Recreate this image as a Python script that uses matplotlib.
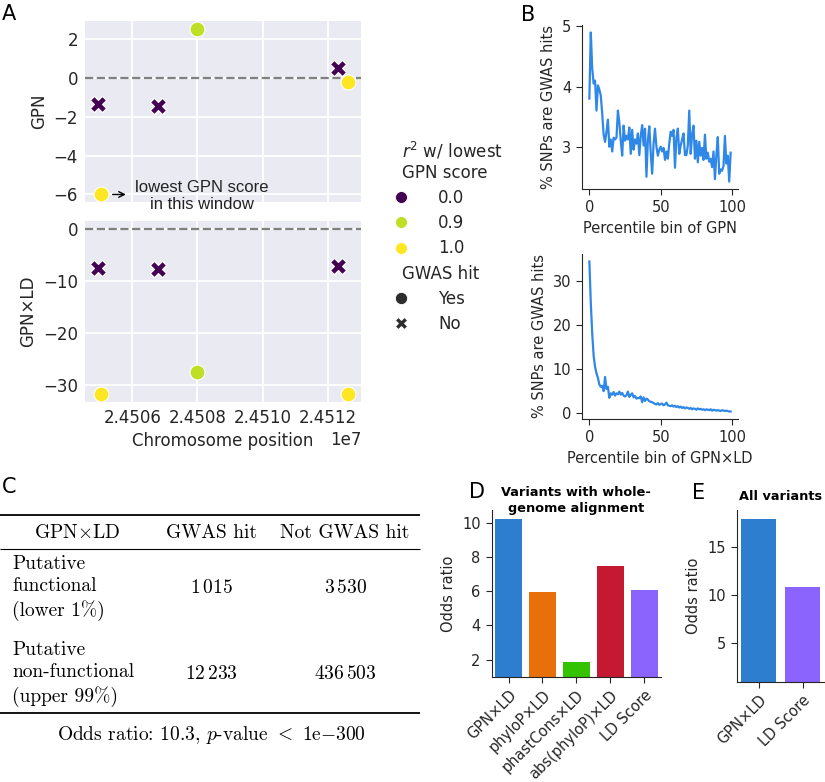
import matplotlib.pyplot as plt
from matplotlib.lines import Line2D
from matplotlib.transforms import offset_copy

# ---- panel A data ----
positions = [24504932, 24505034, 24506800, 24507970, 24512326, 24512634]
gpn = [-1.33, -5.97, -1.47, 2.5, 0.5, -0.2]
gpn_ld = [-7.5, -31.6, -7.6, -27.4, -7.0, -31.6]
r2 = [0.0, 1.0, 0.0, 0.9, 0.0, 1.0]
gwas_hit = [False, True, False, True, False, True]
r2_levels = [0.0, 0.9, 1.0]
pos_ticks = [24506000, 24508000, 24510000, 24512000]

# ---- panel B data ----
percentile_bins = list(range(100))
pct_gwas_gpn = [
    3.8, 4.9, 4.3, 4.05, 4.1, 3.6, 4.02, 3.95, 3.85, 3.55,
    3.2, 3.08, 3.25, 3.45, 3.0, 3.12, 2.92, 3.15, 3.12, 3.15,
    3.6, 3.4, 3.1, 2.85, 3.35, 3.1, 3.18, 3.12, 3.32, 2.88,
    3.28, 2.95, 3.12, 3.05, 3.22, 2.86, 3.18, 3.36, 3.02, 3.3,
    2.5, 3.1, 3.34, 2.9, 2.55, 3.05, 3.3, 3.0, 2.85, 2.95,
    3.0, 2.92, 2.98, 2.78, 2.92, 2.8, 3.05, 3.25, 3.18, 3.28,
    2.65, 3.15, 3.3, 2.88, 3.02, 3.12, 3.22, 2.86, 2.86, 3.02,
    3.6, 2.88, 3.2, 3.35, 2.8, 3.1, 2.74, 3.08, 2.85, 2.98,
    2.78, 3.2, 2.8, 2.9, 2.75, 2.8, 2.66, 2.92, 2.46, 2.86,
    3.16, 2.55, 2.62, 2.6, 2.68, 3.18, 2.72, 2.85, 2.42, 2.9,
]
pct_gwas_gpn_ld = [
    34.3, 25.0, 18.0, 13.0, 10.5, 9.0, 8.0, 6.5, 6.0, 6.2,
    5.0, 8.2, 5.5, 6.0, 3.5, 4.5, 4.2, 4.8, 4.0, 4.5,
    4.3, 4.9, 4.2, 4.6, 4.0, 3.8, 4.1, 4.9, 3.7, 4.2,
    4.5, 3.6, 3.9, 3.3, 3.5, 3.4, 3.8, 2.5, 3.6, 2.8,
    3.3, 3.1, 2.7, 2.6, 2.5, 2.3, 2.1, 2.0, 2.3, 1.9,
    2.1, 2.2, 1.8, 2.0, 2.4, 1.8, 1.7, 1.6, 1.8, 1.5,
    1.7, 1.4, 1.6, 1.3, 1.5, 1.2, 1.4, 1.1, 1.3, 1.2,
    1.0, 1.2, 0.9, 1.1, 1.0, 0.8, 1.1, 0.9, 1.0, 0.8,
    0.9, 0.7, 0.9, 0.8, 0.7, 0.9, 0.6, 0.8, 0.7, 0.6,
    0.7, 0.6, 0.5, 0.7, 0.6, 0.5, 0.6, 0.5, 0.4, 0.4,
]

# ---- panel C data ----
table_header = ['GPN$\\times$LD', 'GWAS hit', 'Not GWAS hit']
row_labels = ['Putative\nfunctional\n(lower 1%)', 'Putative\nnon-functional\n(upper 99%)']
hit_counts = [1015, 12233]
not_hit_counts = [3530, 436503]
odds_ratio = 10.3

# ---- panels D, E data ----
models_wga = ['GPN×LD', 'phyloP×LD', 'phastCons×LD', 'abs(phyloP)×LD', 'LD Score']
odds_wga = [10.25, 5.94, 1.84, 7.47, 6.1]
colors_wga = ['#2E7ECF', '#E8700A', '#33C300', '#C51832', '#8B63FD']
models_all = ['GPN×LD', 'LD Score']
odds_all = [17.9, 10.86]
colors_all = ['#2E7ECF', '#8B63FD']

W, H = 825, 782
fig = plt.figure(figsize=(W / 100, H / 100), dpi=100)


def box(l, t, r, b):
    return [l / W, 1 - b / H, (r - l) / W, (b - t) / H]


dark = '#262626'
cmap = plt.get_cmap('viridis')

# ---------------- A ----------------
ax_top = fig.add_axes(box(85, 21, 361, 202))
ax_bot = fig.add_axes(box(85, 221, 361, 402), sharex=ax_top)
for ax, vals, lab in [(ax_top, gpn, 'GPN'), (ax_bot, gpn_ld, 'GPN×LD')]:
    ax.set_facecolor('#EAEAF2')
    for s in ax.spines.values():
        s.set_visible(False)
    ax.grid(True, color='white', lw=1.3)
    ax.set_axisbelow(True)
    ax.axhline(0, color='grey', ls='--', lw=1.6, zorder=1)
    for x, y, r, hit in zip(positions, vals, r2, gwas_hit):
        ax.scatter(x, y, s=115 if hit else 135, color=cmap(r), marker='o' if hit else 'X',
                   edgecolor='white', linewidth=0.8, zorder=3)
    ax.set_ylabel(lab, fontsize=12, color=dark)
    ax.tick_params(length=0, labelsize=12, labelcolor=dark, pad=5)

ax_top.set_yticks([2, 0, -2, -4, -6])
ax_bot.set_yticks([0, -10, -20, -30])
ax_bot.set_xticks(pos_ticks)
ax_bot.ticklabel_format(axis='x', useOffset=False, style='sci', scilimits=(0, 0))
ax_bot.xaxis.get_offset_text().set_fontsize(12)
ax_bot.xaxis.get_offset_text().set_color(dark)
ax_top.xaxis.get_offset_text().set_visible(False)
plt.setp(ax_top.get_xticklabels(), visible=False)
ax_bot.set_xlabel('Chromosome position', fontsize=12, color=dark)

# annotation for the lowest GPN score
i_low = gpn.index(min(gpn))
px, py = positions[i_low], gpn[i_low]
tail = offset_copy(ax_top.transData, fig=fig, x=8.5, y=-0.5, units='points')
head = offset_copy(ax_top.transData, fig=fig, x=18, y=-0.5, units='points')
ax_top.annotate('', xy=(px, py), xycoords=head, xytext=(px, py), textcoords=tail,
                arrowprops=dict(arrowstyle='->', color='black', lw=1.0,
                                shrinkA=0, shrinkB=0))
ax_top.annotate('lowest GPN score\nin this window', xy=(px, py), xytext=(72.5, -1.5),
                textcoords='offset points', ha='center', va='center',
                fontsize=12, family='Liberation Sans', color='#222222',
                linespacing=1.15, annotation_clip=False)

# legend
handles = [Line2D([], [], visible=False)]
labels = ['$r^2$ w/ lowest\nGPN score']
for v in r2_levels:
    handles.append(Line2D([], [], ls='none', marker='o', ms=8.6, mfc=cmap(v),
                          mec='white', mew=0.6))
    labels.append(f'{v:.1f}')
handles.append(Line2D([], [], visible=False))
labels.append('GWAS hit')
handles.append(Line2D([], [], ls='none', marker='o', ms=8.8, mfc='#2d2d2d', mec='white', mew=0.6))
labels.append('Yes')
handles.append(Line2D([], [], ls='none', marker='X', ms=9.2, mfc='#2d2d2d', mec='white', mew=0.6))
labels.append('No')
leg = fig.legend(handles, labels, loc='upper left', bbox_to_anchor=(383 / W, 1 - 140 / H),
                 frameon=False, fontsize=12, handlelength=2.15, handletextpad=1.15,
                 labelspacing=0.43, borderpad=0, borderaxespad=0)
for col in leg._legend_handle_box.get_children():
    for hpack in col.get_children():
        draw_area, text_area = hpack.get_children()
        if not all(a.get_visible() for a in draw_area.get_children()):
            draw_area.set_width(0)
for t in leg.get_texts():
    t.set_color(dark)

# ---------------- B ----------------
line_color = '#2F87E8'
ax_b1 = fig.add_axes(box(582.3, 25, 737.7, 189))
ax_b2 = fig.add_axes(box(582.3, 254, 737.7, 419))
for ax, vals, xl, yt in [(ax_b1, pct_gwas_gpn, 'Percentile bin of GPN', [3, 4, 5]),
                         (ax_b2, pct_gwas_gpn_ld, 'Percentile bin of GPN×LD', [0, 10, 20, 30])]:
    ax.plot(percentile_bins, vals, color=line_color, lw=1.6)
    ax.set_xlabel(xl, fontsize=10.5, color=dark)
    ax.set_ylabel('% SNPs are GWAS hits', fontsize=10.5, color=dark)
    ax.set_xticks([0, 50, 100])
    ax.set_yticks(yt)
    ax.spines[['top', 'right']].set_visible(False)
    ax.spines[['left', 'bottom']].set_color(dark)
    ax.tick_params(labelsize=10.5, labelcolor=dark, color=dark, length=4.5)

# ---------------- C ----------------
ax_c = fig.add_axes(box(0, 470, 430, 760))
ax_c.set_xlim(0, 430)
ax_c.set_ylim(760, 470)
ax_c.axis('off')
tkw = dict(family='cmr10', fontsize=14, color='black', math_fontfamily='cm')
ax_c.plot([0, 420], [515, 515], color='black', lw=1.3, solid_capstyle='butt')
ax_c.plot([0, 420], [549, 549], color='black', lw=0.8, solid_capstyle='butt')
ax_c.plot([0, 420], [713, 713], color='black', lw=1.3, solid_capstyle='butt')
col_x = [77, 211, 345]
for x, h in zip(col_x, table_header):
    ax_c.text(x, 533, h, ha='center', va='center', **tkw)


def fmt(n):
    return f'{n:,}'.replace(',', r'$\,$')


for y, lab, a, b in zip([588, 674], row_labels, hit_counts, not_hit_counts):
    ax_c.text(12.5, y, lab, ha='left', va='center', linespacing=1.3, **tkw)
    ax_c.text(col_x[1], y, fmt(a), ha='center', va='center', **tkw)
    ax_c.text(col_x[2], y, fmt(b), ha='center', va='center', **tkw)
ax_c.text(211, 735, f'Odds ratio: {odds_ratio}, $p$-value $<$ 1e$-$300',
          ha='center', va='center', **tkw)

# ---------------- D, E ----------------
ax_d = fig.add_axes(box(491.7, 510, 661, 676.7))
ax_e = fig.add_axes(box(736.7, 510, 824.7, 681.7))
for ax, names, vals, cols, title, yt, tpad in [
        (ax_d, models_wga, odds_wga, colors_wga,
         'Variants with whole-\ngenome alignment', [2, 4, 6, 8, 10], -1.5),
        (ax_e, models_all, odds_all, colors_all, 'All variants', [5, 10, 15], 7)]:
    ax.bar(range(len(names)), vals, width=0.8, color=cols)
    ax.set_xlim(-0.5, len(names) - 0.5)
    ax.set_ylim(bottom=1)
    ax.set_yticks(yt)
    ax.set_xticks(range(len(names)))
    ax.set_xticklabels(names, rotation=45, ha='right', rotation_mode='anchor')
    ax.set_ylabel('Odds ratio', fontsize=10.5, color=dark)
    ax.set_title(title, fontsize=9.3, fontweight='bold', color='black', pad=tpad,
                 y=1.0, linespacing=1.3)
    ax.spines[['top', 'right']].set_visible(False)
    ax.spines[['left', 'bottom']].set_color(dark)
    ax.tick_params(labelsize=10.5, labelcolor=dark, color=dark, length=4.5)

# panel letters
for lab, x, y in [('A', 2, 14), ('B', 521, 15), ('C', 2, 487), ('D', 469, 492), ('E', 692, 493)]:
    fig.text(x / W, 1 - y / H, lab, fontsize=15, ha='left', va='center', color='black')

fig.savefig('out.png', dpi=100)
